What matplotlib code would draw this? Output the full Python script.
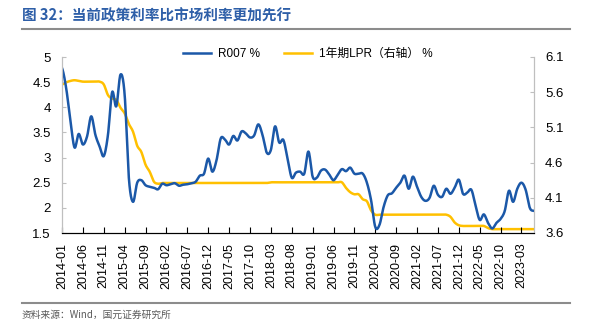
import numpy as np
import pandas as pd
import matplotlib
matplotlib.use("Agg")
import matplotlib.pyplot as plt
from matplotlib.lines import Line2D

plt.rcParams['font.family'] = ['Liberation Sans', 'Noto Sans CJK SC']

# 月度数据 2014-01 ~ 2023-06
months = pd.period_range("2014-01", "2023-06", freq="M")

r007 = [4.78, 4.38, 3.75, 3.20, 3.47, 3.26, 3.42, 3.82, 3.45, 3.22,
        3.03, 3.45, 4.30, 4.02, 4.65, 4.25, 2.60, 2.12, 2.50, 2.55,
        2.45, 2.42, 2.40, 2.37, 2.48, 2.45, 2.47, 2.49, 2.44, 2.46,
        2.47, 2.49, 2.52, 2.64, 2.68, 2.98, 2.72, 2.95, 3.38, 3.36,
        3.26, 3.43, 3.34, 3.52, 3.48, 3.40, 3.44, 3.66, 3.45, 3.10,
        3.15, 3.62, 3.30, 3.35, 2.98, 2.60, 2.70, 2.72, 2.68, 3.12,
        2.62, 2.60, 2.74, 2.76, 2.66, 2.55, 2.66, 2.77, 2.73, 2.80,
        2.68, 2.68, 2.68, 2.50, 2.15, 1.62, 1.66, 2.02, 2.25, 2.29,
        2.40, 2.50, 2.64, 2.38, 2.62, 2.42, 2.22, 2.14, 2.20, 2.44,
        2.26, 2.22, 2.38, 2.28, 2.40, 2.56, 2.28, 2.30, 2.36, 2.05,
        1.76, 1.87, 1.70, 1.59, 1.70, 1.78, 1.94, 2.34, 2.12, 2.38,
        2.50, 2.36, 2.00, 1.94]

lpr = [5.71, 5.74, 5.76, 5.77, 5.76, 5.75, 5.75, 5.75, 5.75, 5.75,
       5.71, 5.56, 5.51, 5.49, 5.38, 5.30, 5.15, 5.04, 4.84, 4.75,
       4.57, 4.47, 4.33, 4.30, 4.31, 4.31, 4.31, 4.31, 4.31, 4.31,
       4.31, 4.31, 4.31, 4.31, 4.31, 4.31, 4.31, 4.31, 4.31, 4.31,
       4.31, 4.31, 4.31, 4.31, 4.31, 4.31, 4.31, 4.31, 4.31, 4.31,
       4.32, 4.32, 4.32, 4.32, 4.32, 4.32, 4.32, 4.32, 4.32, 4.32,
       4.32, 4.32, 4.32, 4.32, 4.32, 4.32, 4.32, 4.32, 4.24, 4.18,
       4.15, 4.15, 4.08, 4.05, 3.92, 3.86, 3.86, 3.86, 3.86, 3.86,
       3.86, 3.86, 3.86, 3.86, 3.86, 3.86, 3.86, 3.86, 3.86, 3.86,
       3.86, 3.86, 3.86, 3.83, 3.75, 3.71, 3.70, 3.70, 3.70, 3.70,
       3.70, 3.70, 3.67, 3.655, 3.655, 3.655, 3.655, 3.655, 3.655, 3.655,
       3.655, 3.655, 3.655, 3.655]

left_ticks = [1.5, 2, 2.5, 3, 3.5, 4, 4.5, 5]
right_ticks = [3.6, 4.1, 4.6, 5.1, 5.6, 6.1]

BLUE = "#1B58A8"
GOLD = "#FFC000"


def smooth(y, n=12):
    # Catmull-Rom 平滑曲线
    y = np.asarray(y, float)
    p = np.concatenate([[y[0]], y, [y[-1]]])
    t = np.linspace(0, 1, n, endpoint=False)
    xs, ys = [], []
    for i in range(len(y) - 1):
        p0, p1, p2, p3 = p[i], p[i + 1], p[i + 2], p[i + 3]
        seg = 0.5 * (2 * p1 + (p2 - p0) * t
                     + (2 * p0 - 5 * p1 + 4 * p2 - p3) * t ** 2
                     + (-p0 + 3 * p1 - 3 * p2 + p3) * t ** 3)
        xs.append(i + t)
        ys.append(seg)
    xs.append([len(y) - 1])
    ys.append([y[-1]])
    return np.concatenate(xs), np.concatenate(ys)


fig = plt.figure(figsize=(5.92, 3.35), dpi=100)
ax = fig.add_axes([62 / 592, 1 - 233 / 335, (534 - 62) / 592, (233 - 57) / 335])
ax2 = ax.twinx()

x1, y1 = smooth(r007)
x2, y2 = smooth(lpr)
l1, = ax.plot(x1, y1, color=BLUE, lw=1.8, label="R007 %")
l2, = ax2.plot(x2, y2, color=GOLD, lw=1.8, label="1年期LPR（右轴） %")
ax.set_zorder(ax2.get_zorder() + 1)
ax.patch.set_visible(False)

ax.set_xlim(0, len(months) - 1)
ax.set_ylim(1.5, 5)
ax2.set_ylim(3.6, 6.1)

xt = np.arange(0, len(months), 5)
ax.set_xticks(xt)
ax.set_xticklabels([months[i].strftime("%Y-%m") for i in xt], rotation=90, fontsize=9)
ax.set_yticks(left_ticks)
ax.set_yticklabels([f"{v:g}" for v in left_ticks], fontsize=9.5)
ax2.set_yticks(right_ticks)
ax2.set_yticklabels([f"{v:g}" for v in right_ticks], fontsize=9.5)

for a in (ax, ax2):
    a.spines["top"].set_visible(False)
    a.spines["left"].set_color("#BFBFBF")
    a.spines["right"].set_color("#BFBFBF")
    a.spines["bottom"].set_color("#000000")
ax.tick_params(axis="x", direction="in", length=4, color="#000000", pad=7)
ax.tick_params(axis="y", direction="in", length=3, color="#BFBFBF", pad=8)
ax2.tick_params(axis="y", direction="in", length=3, color="#BFBFBF", pad=8)

fig.legend(handles=[l1, l2], loc="center", bbox_to_anchor=(308 / 592, 1 - 54 / 335),
           ncol=2, frameon=False, handlelength=2.4, columnspacing=2.0,
           handletextpad=0.6, prop={"family": ["Liberation Sans", "Noto Sans CJK SC"], "size": 8.5})

fig.text(22 / 592, 1 - 15 / 335, "图 32：当前政策利率比市场利率更加先行",
         color="#2E5FA8", fontsize=10.5, fontweight="bold", va="center",
         family=["Noto Sans CJK SC"])
fig.add_artist(Line2D([22 / 592, 570 / 592], [1 - 29 / 335] * 2, color="#8C8C8C", lw=1.5))
fig.add_artist(Line2D([22 / 592, 570 / 592], [1 - 302.5 / 335] * 2, color="#8C8C8C", lw=1.5))
fig.text(22 / 592, 1 - 315 / 335, "资料来源：Wind，国元证券研究所",
         color="#595959", fontsize=7, va="center",
         family=["Noto Sans CJK SC", "Liberation Sans"])

fig.savefig("out.png", dpi=100)
